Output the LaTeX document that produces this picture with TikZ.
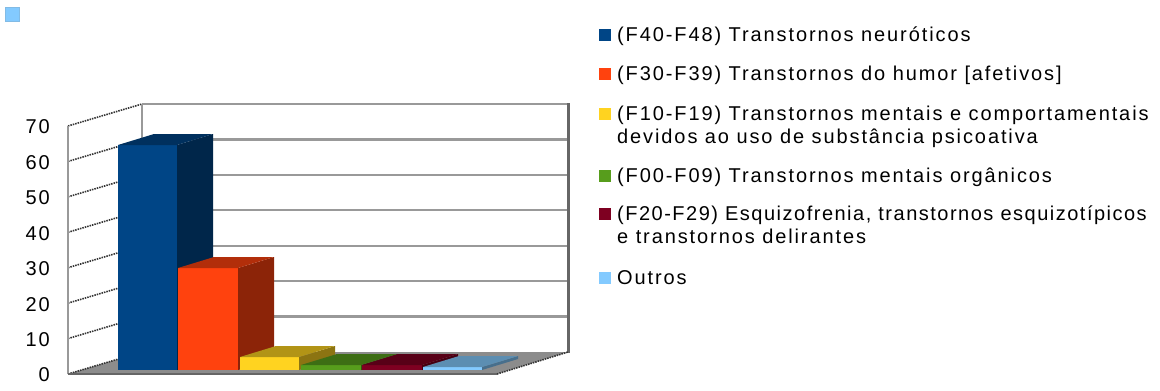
\documentclass[tikz,border=0pt]{standalone}
\usepackage{fontspec}
\setmainfont{Liberation Sans}[LetterSpace=9.5]
\definecolor{ooblue}{HTML}{004586}
\definecolor{oored}{HTML}{FF420E}
\definecolor{ooyellow}{HTML}{FFD320}
\definecolor{oogreen}{HTML}{579D1C}
\definecolor{oowine}{HTML}{7E0021}
\definecolor{oosky}{HTML}{83CAFF}
\definecolor{gridgray}{HTML}{999999}
\definecolor{floorgray}{HTML}{8C8C8C}

% one 3D column: left x, right x, top y of the front face, colour
\newcommand{\colbar}[4]{%
  \fill[#4] (#1,370) rectangle (#2,#3);
  \fill[#4!55!black] (#2,370) -- (#2+36,359) -- (#2+36,#3-11) -- (#2,#3) -- cycle;
  \fill[#4!70!black] (#1,#3) -- (#1+36,#3-11) -- (#2+36,#3-11) -- (#2,#3) -- cycle;
}

\begin{document}
\begin{tikzpicture}[x=1pt,y=-1pt,
  wallline/.style={gridgray,line width=2.2pt},
  sideline/.style={gray!40!black,line width=1.6pt,dash pattern=on 1.5pt off 1pt},
  ticklabel/.style={anchor=east,inner sep=0pt,font=\fontsize{20}{24}\selectfont},
  legtext/.style={anchor=base west,inner sep=0pt,font=\fontsize{20}{24}\selectfont},
  legkey/.style={minimum size=12pt,inner sep=0pt}]
	\useasboundingbox (0,0) rectangle (1160,391);
	\fill[oosky,draw=oosky!80!gray] (5,7) rectangle (19,21);
	% walls and floor
	\fill[floorgray] (68,374) -- (497,374) -- (568,352) -- (142,352) -- cycle;
	\foreach \v in {1,...,7}
		\draw[wallline] (142,352-35.43*\v) -- (568,352-35.43*\v);
	\foreach \v [evaluate=\v as \n using int(10*\v)] in {0,...,7}{
		\draw[sideline] (68,374-35.43*\v) -- (142,352-35.43*\v);
		\node[ticklabel] (lbl\v) at (50,375-35.43*\v) {\n};
	}
	\draw[wallline] (142,104) -- (142,352);
	\draw[wallline] (68,126) -- (68,374);
	\draw[gray!80!black,line width=3pt] (568,103) -- (568,353);
	\draw[gray!80!black,line width=2pt] (68,374) -- (497,374);
	\draw[sideline] (497,374) -- (568,352);
	% columns
	\colbar{118}{177}{145}{ooblue}
	\colbar{178}{238}{268}{oored}
	\colbar{240}{299}{357}{ooyellow}
	\colbar{301}{361}{365}{oogreen}
	\colbar{362}{422}{365}{oowine}
	\colbar{423}{482}{367}{oosky}
	% legend
	\node[legkey,fill=ooblue] (key1) at (605,35) {};
	\node[legtext] (leg1) at (617,41.5) {(F40-F48) Transtornos neuróticos};
	\node[legkey,fill=oored] (key2) at (605,74) {};
	\node[legtext] (leg2) at (617,80.5) {(F30-F39) Transtornos do humor [afetivos]};
	\node[legkey,fill=ooyellow] (key3) at (605,113.5) {};
	\node[legtext] (leg3) at (617,120) {(F10-F19) Transtornos mentais e comportamentais};
	\node[legtext] (leg3b) at (617,143) {devidos ao uso de substância psicoativa};
	\node[legkey,fill=oogreen] (key4) at (605,175.5) {};
	\node[legtext] (leg4) at (617,182) {(F00-F09) Transtornos mentais orgânicos};
	\node[legkey,fill=oowine] (key5) at (605,214) {};
	\node[legtext] (leg5) at (617,220.5) {\addfontfeature{LetterSpace=7.5}(F20-F29) Esquizofrenia, transtornos esquizotípicos};
	\node[legtext] (leg5b) at (617,243.5) {e transtornos delirantes};
	\node[legkey,fill=oosky] (key6) at (605,278) {};
	\node[legtext] (leg6) at (617,284.5) {Outros};
\end{tikzpicture}
\end{document}
